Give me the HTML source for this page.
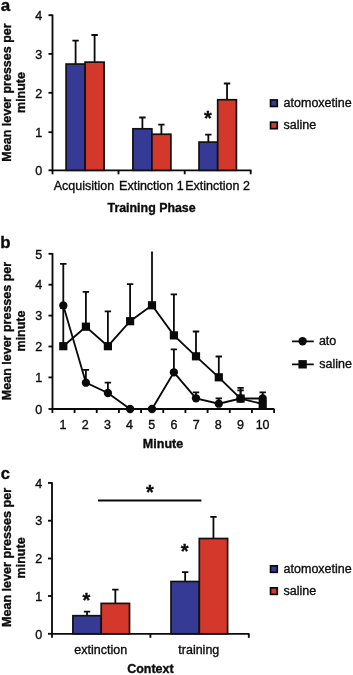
<!DOCTYPE html><html><head><meta charset="utf-8"><title>Figure</title><style>html,body{margin:0;padding:0;background:#fff;width:353px;height:675px;overflow:hidden}svg{display:block;will-change:transform}text{font-family:"Liberation Sans",Arial,Helvetica,sans-serif;fill:#0c0c0c;stroke:#0c0c0c;stroke-width:.35}.b{font-weight:bold}.l{stroke:#0a0a0a;stroke-width:1.85;fill:none}.e{stroke:#0a0a0a;stroke-width:1.8;fill:none}</style></head><body>
<svg width="353" height="675" viewBox="0 0 353 675">
<text class="b" font-size="17" x="0.8" y="11.1">a</text>
<text class="b" font-size="12.5" text-anchor="middle" transform="translate(10.6,92.5) rotate(-90)">Mean lever presses per</text>
<text class="b" font-size="12.5" text-anchor="middle" transform="translate(25.1,92.5) rotate(-90)">minute</text>
<path class="l" d="M52.5 14.5V171.0"/>
<path class="l" d="M48.5 170.30H52.5"/>
<text font-size="12.5" text-anchor="end" x="42.3" y="175.00">0</text>
<path class="l" d="M48.5 132.20H52.5"/>
<text font-size="12.5" text-anchor="end" x="42.3" y="136.90">1</text>
<path class="l" d="M48.5 92.80H52.5"/>
<text font-size="12.5" text-anchor="end" x="42.3" y="97.50">2</text>
<path class="l" d="M48.5 53.90H52.5"/>
<text font-size="12.5" text-anchor="end" x="42.3" y="58.60">3</text>
<path class="l" d="M48.5 15.20H52.5"/>
<text font-size="12.5" text-anchor="end" x="42.3" y="19.90">4</text>
<path class="l" d="M51.7 170.3H251.4"/>
<path class="l" d="M52.5 170.3V174.3"/>
<path class="l" d="M118.5 170.3V174.3"/>
<path class="l" d="M184.7 170.3V174.3"/>
<path class="l" d="M250.7 170.3V174.3"/>
<path class="e" d="M75.60 64.06V40.60M72.40 40.60H78.80"/>
<path class="e" d="M94.60 62.12V35.00M91.40 35.00H97.80"/>
<rect x="66.10" y="64.06" width="19.00" height="106.24" fill="#353b94" stroke="#111" stroke-width="1.7"/>
<rect x="85.10" y="62.12" width="19.00" height="108.18" fill="#d3382a" stroke="#111" stroke-width="1.7"/>
<path class="e" d="M142.40 128.81V117.50M139.20 117.50H145.60"/>
<path class="e" d="M161.40 134.24V124.70M158.20 124.70H164.60"/>
<rect x="132.90" y="128.81" width="19.00" height="41.49" fill="#353b94" stroke="#111" stroke-width="1.7"/>
<rect x="151.90" y="134.24" width="19.00" height="36.06" fill="#d3382a" stroke="#111" stroke-width="1.7"/>
<path class="e" d="M208.35 142.11V134.60M205.15 134.60H211.55"/>
<path class="e" d="M227.05 99.73V83.50M223.85 83.50H230.25"/>
<rect x="199.00" y="142.11" width="18.70" height="28.19" fill="#353b94" stroke="#111" stroke-width="1.7"/>
<rect x="217.70" y="99.73" width="18.70" height="70.57" fill="#d3382a" stroke="#111" stroke-width="1.7"/>
<text class="b" font-size="20" text-anchor="middle" x="207.9" y="124.90">*</text>
<text font-size="12.5" text-anchor="middle" x="84.0" y="189.8">Acquisition</text>
<text font-size="12.5" text-anchor="middle" x="151.4" y="189.8">Extinction 1</text>
<text font-size="12.5" text-anchor="middle" x="217.6" y="189.8">Extinction 2</text>
<text class="b" font-size="12.4" text-anchor="middle" x="151.6" y="212.1">Training Phase</text>
<rect x="270.55" y="99.95" width="6.7" height="6.5" fill="#353b94" stroke="#0a0a0a" stroke-width="1.7"/>
<text font-size="12.5" x="283.6" y="106.7">atomoxetine</text>
<rect x="270.55" y="122.2" width="6.7" height="6.5" fill="#d3382a" stroke="#0a0a0a" stroke-width="1.7"/>
<text font-size="12.5" x="283.6" y="128.5">saline</text>
<text class="b" font-size="16.8" x="0.3" y="248.4">b</text>
<text class="b" font-size="12.5" text-anchor="middle" transform="translate(10.6,331) rotate(-90)">Mean lever presses per</text>
<text class="b" font-size="12.5" text-anchor="middle" transform="translate(25.1,331) rotate(-90)">minute</text>
<path class="l" d="M52.5 253.10000000000002V409.7"/>
<path class="l" d="M48.5 409.00H52.5"/>
<text font-size="12.5" text-anchor="end" x="42.3" y="413.70">0</text>
<path class="l" d="M48.5 377.40H52.5"/>
<text font-size="12.5" text-anchor="end" x="42.3" y="382.10">1</text>
<path class="l" d="M48.5 346.50H52.5"/>
<text font-size="12.5" text-anchor="end" x="42.3" y="351.20">2</text>
<path class="l" d="M48.5 315.60H52.5"/>
<text font-size="12.5" text-anchor="end" x="42.3" y="320.30">3</text>
<path class="l" d="M48.5 284.70H52.5"/>
<text font-size="12.5" text-anchor="end" x="42.3" y="289.40">4</text>
<path class="l" d="M48.5 253.80H52.5"/>
<text font-size="12.5" text-anchor="end" x="42.3" y="258.50">5</text>
<path class="l" d="M51.7 409.0H274.4"/>
<path class="l" d="M52.40 409.0V413.0"/>
<path class="l" d="M74.57 409.0V413.0"/>
<path class="l" d="M96.74 409.0V413.0"/>
<path class="l" d="M118.91 409.0V413.0"/>
<path class="l" d="M141.08 409.0V413.0"/>
<path class="l" d="M163.25 409.0V413.0"/>
<path class="l" d="M185.42 409.0V413.0"/>
<path class="l" d="M207.59 409.0V413.0"/>
<path class="l" d="M229.76 409.0V413.0"/>
<path class="l" d="M251.93 409.0V413.0"/>
<path class="l" d="M274.10 409.0V413.0"/>
<text font-size="12.5" text-anchor="middle" x="63.09" y="428.8">1</text>
<text font-size="12.5" text-anchor="middle" x="85.25" y="428.8">2</text>
<text font-size="12.5" text-anchor="middle" x="107.43" y="428.8">3</text>
<text font-size="12.5" text-anchor="middle" x="129.59" y="428.8">4</text>
<text font-size="12.5" text-anchor="middle" x="151.77" y="428.8">5</text>
<text font-size="12.5" text-anchor="middle" x="173.94" y="428.8">6</text>
<text font-size="12.5" text-anchor="middle" x="196.11" y="428.8">7</text>
<text font-size="12.5" text-anchor="middle" x="218.28" y="428.8">8</text>
<text font-size="12.5" text-anchor="middle" x="240.45" y="428.8">9</text>
<text font-size="12.5" text-anchor="middle" x="262.62" y="428.8">10</text>
<text class="b" font-size="12.5" text-anchor="middle" x="163" y="448.0">Minute</text>
<path class="e" d="M63.30 346.20V307.80M60.10 307.80H66.50"/>
<path class="e" d="M85.90 326.70V291.80M82.70 291.80H89.10"/>
<path class="e" d="M107.90 346.20V311.40M104.70 311.40H111.10"/>
<path class="e" d="M130.10 321.20V284.20M126.90 284.20H133.30"/>
<path class="e" d="M152.00 305.3V251.5"/>
<path class="e" d="M173.90 335.40V294.40M170.70 294.40H177.10"/>
<path class="e" d="M196.00 356.30V331.50M192.80 331.50H199.20"/>
<path class="e" d="M218.80 377.30V356.50M215.60 356.50H222.00"/>
<path class="e" d="M240.60 398.60V387.80M237.40 387.80H243.80"/>
<path class="e" d="M63.30 305.40V263.80M60.10 263.80H66.50"/>
<path class="e" d="M85.90 382.70V369.80M82.70 369.80H89.10"/>
<path class="e" d="M107.90 393.00V382.70M104.70 382.70H111.10"/>
<path class="e" d="M173.90 372.30V349.40M170.70 349.40H177.10"/>
<path class="e" d="M196.00 398.30V392.30M192.80 392.30H199.20"/>
<path class="e" d="M218.80 403.70V398.40M215.60 398.40H222.00"/>
<path class="e" d="M240.60 398.50V390.40M237.40 390.40H243.80"/>
<path class="e" d="M262.70 398.50V392.30M259.50 392.30H265.90"/>
<path class="l" stroke-width="1.9" d="M63.30 346.2 L85.90 326.7 L107.90 346.2 L130.10 321.2 L152.00 305.3 L173.90 335.4 L196.00 356.3 L218.80 377.3 L240.60 398.6 L262.70 404"/>
<path class="l" stroke-width="1.9" d="M63.30 305.4 L85.90 382.7 L107.90 393 L130.10 409.0 L152.00 409.0 L173.90 372.3 L196.00 398.3 L218.80 403.7 L240.60 398.5 L262.70 398.5"/>
<rect x="59.20" y="342.10" width="8.2" height="8.2" fill="#0a0a0a"/>
<rect x="81.80" y="322.60" width="8.2" height="8.2" fill="#0a0a0a"/>
<rect x="103.80" y="342.10" width="8.2" height="8.2" fill="#0a0a0a"/>
<rect x="126.00" y="317.10" width="8.2" height="8.2" fill="#0a0a0a"/>
<rect x="147.90" y="301.20" width="8.2" height="8.2" fill="#0a0a0a"/>
<rect x="169.80" y="331.30" width="8.2" height="8.2" fill="#0a0a0a"/>
<rect x="191.90" y="352.20" width="8.2" height="8.2" fill="#0a0a0a"/>
<rect x="214.70" y="373.20" width="8.2" height="8.2" fill="#0a0a0a"/>
<rect x="236.50" y="394.50" width="8.2" height="8.2" fill="#0a0a0a"/>
<rect x="258.60" y="399.90" width="8.2" height="8.2" fill="#0a0a0a"/>
<circle cx="63.30" cy="305.4" r="4.15" fill="#0a0a0a"/>
<circle cx="85.90" cy="382.7" r="4.15" fill="#0a0a0a"/>
<circle cx="107.90" cy="393" r="4.15" fill="#0a0a0a"/>
<circle cx="130.10" cy="409.0" r="4.15" fill="#0a0a0a"/>
<circle cx="152.00" cy="409.0" r="4.15" fill="#0a0a0a"/>
<circle cx="173.90" cy="372.3" r="4.15" fill="#0a0a0a"/>
<circle cx="196.00" cy="398.3" r="4.15" fill="#0a0a0a"/>
<circle cx="218.80" cy="403.7" r="4.15" fill="#0a0a0a"/>
<circle cx="240.60" cy="398.5" r="4.15" fill="#0a0a0a"/>
<circle cx="262.70" cy="398.5" r="4.15" fill="#0a0a0a"/>
<path class="l" stroke-width="1.5" d="M292 341.3H313.8M292 364.3H313.8"/>
<circle cx="302.6" cy="341.3" r="4.2" fill="#0a0a0a"/>
<rect x="298.4" y="360.1" width="8.4" height="8.4" fill="#0a0a0a"/>
<text font-size="12.5" x="318.9" y="345.2">ato</text>
<text font-size="12.5" x="319.2" y="367.5">saline</text>
<text class="b" font-size="16.5" x="0.8" y="478.7">c</text>
<text class="b" font-size="12.58" text-anchor="middle" transform="translate(10.6,557.5) rotate(-90)">Mean lever presses per</text>
<text class="b" font-size="12.5" text-anchor="middle" transform="translate(25.1,557.9) rotate(-90)">minute</text>
<path class="l" d="M52 482.2V634.5"/>
<path class="l" d="M48 633.80H52"/>
<text font-size="12.5" text-anchor="end" x="42.3" y="638.50">0</text>
<path class="l" d="M48 596.00H52"/>
<text font-size="12.5" text-anchor="end" x="42.3" y="600.70">1</text>
<path class="l" d="M48 558.50H52"/>
<text font-size="12.5" text-anchor="end" x="42.3" y="563.20">2</text>
<path class="l" d="M48 520.70H52"/>
<text font-size="12.5" text-anchor="end" x="42.3" y="525.40">3</text>
<path class="l" d="M48 482.90H52"/>
<text font-size="12.5" text-anchor="end" x="42.3" y="487.60">4</text>
<path class="l" d="M51.2 633.8H249.4"/>
<path class="l" d="M52 633.8V637.8"/>
<path class="l" d="M150.4 633.8V637.8"/>
<path class="l" d="M248.8 633.8V637.8"/>
<path class="e" d="M87.05 615.70V611.60M83.85 611.60H90.25"/>
<path class="e" d="M115.35 603.40V589.70M112.15 589.70H118.55"/>
<rect x="72.90" y="615.70" width="28.30" height="18.10" fill="#353b94" stroke="#111" stroke-width="1.7"/>
<rect x="101.20" y="603.40" width="28.30" height="30.40" fill="#d3382a" stroke="#111" stroke-width="1.7"/>
<path class="e" d="M185.15 581.50V572.10M181.95 572.10H188.35"/>
<path class="e" d="M213.45 538.50V516.90M210.25 516.90H216.65"/>
<rect x="171.00" y="581.50" width="28.30" height="52.30" fill="#353b94" stroke="#111" stroke-width="1.7"/>
<rect x="199.30" y="538.50" width="28.30" height="95.30" fill="#d3382a" stroke="#111" stroke-width="1.7"/>
<text class="b" font-size="20" text-anchor="middle" x="86.5" y="606.90">*</text>
<text class="b" font-size="20" text-anchor="middle" x="184.7" y="557.70">*</text>
<text class="b" font-size="20" text-anchor="middle" x="149.8" y="498.80">*</text>
<path class="l" stroke-width="2" d="M98 500.5H201.4"/>
<text font-size="12.5" text-anchor="middle" x="100.7" y="653.6">extinction</text>
<text font-size="12.5" text-anchor="middle" x="198.8" y="653.6">training</text>
<text class="b" font-size="12.5" text-anchor="middle" x="150.4" y="673.3">Context</text>
<rect x="270.55" y="565.8" width="6.7" height="6.5" fill="#353b94" stroke="#0a0a0a" stroke-width="1.7"/>
<text font-size="12.5" x="283.6" y="572.8">atomoxetine</text>
<rect x="270.55" y="587.85" width="6.7" height="6.5" fill="#d3382a" stroke="#0a0a0a" stroke-width="1.7"/>
<text font-size="12.5" x="283.6" y="594.5">saline</text>
</svg></body></html>
